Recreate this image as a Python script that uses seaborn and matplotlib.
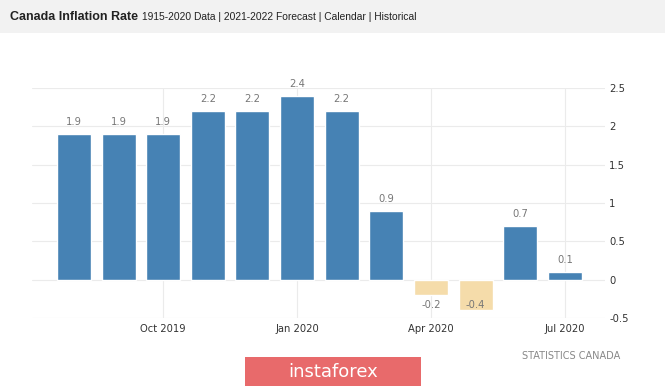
import matplotlib
matplotlib.use("Agg")
import matplotlib.pyplot as plt
import seaborn as sns
import pandas as pd
from matplotlib.patches import Rectangle

months = ["Aug 2019", "Sep 2019", "Oct 2019", "Nov 2019", "Dec 2019", "Jan 2020",
          "Feb 2020", "Mar 2020", "Apr 2020", "May 2020", "Jun 2020", "Jul 2020"]
values = [1.9, 1.9, 1.9, 2.2, 2.2, 2.4, 2.2, 0.9, -0.2, -0.4, 0.7, 0.1]
tick_months = ["Oct 2019", "Jan 2020", "Apr 2020", "Jul 2020"]
tick_labels = ["Oct 2019", "Jan 2020", "Apr 2020", "Jul 2020"]
y_ticks = [2.5, 2, 1.5, 1, 0.5, 0, -0.5]
y_tick_labels = ["2.5", "2", "1.5", "1", "0.5", "0", "-0.5"]

POS = "#4682b4"
NEG = "#f5dcaa"

sns.set_theme(style="white")
plt.rcParams["font.family"] = ["DejaVu Sans"]

df = pd.DataFrame({"month": months, "value": values})
df["sign"] = ["pos" if v >= 0 else "neg" for v in values]

fig = plt.figure(figsize=(6.65, 3.88), dpi=100)
fig.patch.set_facecolor("white")

# title band
fig.patches.append(Rectangle((0, 1 - 33 / 388), 1, 33 / 388, transform=fig.transFigure,
                             facecolor="#f2f2f2", edgecolor="none", zorder=0))
fig.text(10 / 665, 1 - 17 / 388, "Canada Inflation Rate", fontsize=9.0, fontweight="bold",
         color="#222222", family=["Liberation Sans"], va="center", ha="left")
fig.text(142 / 665, 1 - 17 / 388, "1915-2020 Data | 2021-2022 Forecast | Calendar | Historical",
         fontsize=7.4, color="#222222", family=["Liberation Sans"],
         va="center", ha="left")

ax = fig.add_axes([32 / 665, 1 - 318 / 388, (605 - 32) / 665, (318 - 88) / 388])
ax.set_facecolor("white")
sns.barplot(data=df, x="month", y="value", hue="sign", palette={"pos": POS, "neg": NEG},
            order=months, dodge=False, width=0.76, legend=False, ax=ax, zorder=3,
            saturation=1)

ax.set_xlim(-0.94, 11.9)
ax.set_ylim(-0.5, 2.5)

for i, v in enumerate(values):
    if v >= 0:
        ax.text(i, v + 0.09, f"{v:g}", ha="center", va="bottom", fontsize=7.2,
                color="#777777", clip_on=False, zorder=4)
    else:
        ax.text(i, max(v - 0.13, -0.33), f"{v:g}", ha="center", va="center", fontsize=7.2,
                color="#777777", clip_on=False, zorder=4)

tick_pos = [months.index(m) for m in tick_months]
ax.set_xticks(tick_pos)
ax.set_xticklabels(tick_labels, fontsize=7.2, color="#333333")
ax.yaxis.tick_right()
ax.set_yticks(y_ticks)
ax.set_yticklabels(y_tick_labels, fontsize=7.2, color="#333333")
ax.tick_params(axis="both", length=0, pad=4)
ax.tick_params(axis="y", pad=3)
ax.set_xlabel("")
ax.set_ylabel("")
ax.grid(True, color="#ebebeb", linewidth=0.8, zorder=0)
ax.set_axisbelow(True)
for s in ax.spines.values():
    s.set_visible(False)

fig.text(620 / 665, 1 - 356 / 388, "STATISTICS CANADA", fontsize=7, color="#888888",
         ha="right", va="center")

# logo
fig.patches.append(Rectangle((245 / 665, 1 - 386 / 388), 176 / 665, 29 / 388,
                             transform=fig.transFigure, facecolor="#e86a6b",
                             edgecolor="none", zorder=1))
fig.text(333 / 665, 1 - 372 / 388, "instaforex", fontsize=13, color="white",
         ha="center", va="center", zorder=2)

fig.savefig("out.png", dpi=100)
